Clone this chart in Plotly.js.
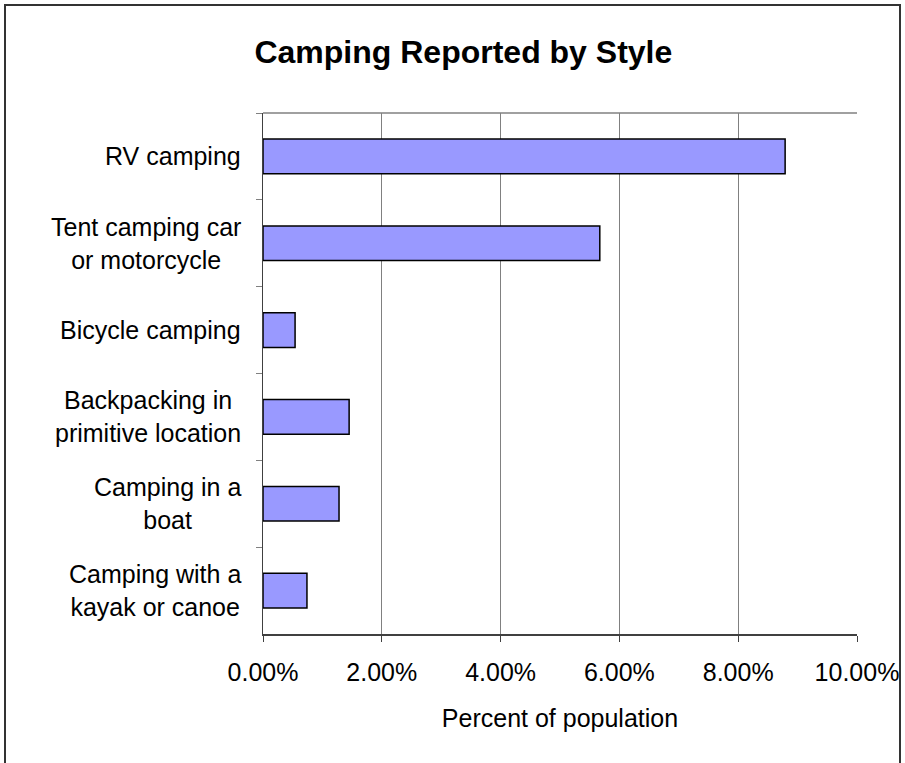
<!DOCTYPE html>
<html>
<head>
<meta charset="utf-8">
<script src="https://cdn.plot.ly/plotly-3.0.1.min.js"></script>
<style>
html,body{margin:0;padding:0;background:#fff;}
#wrap{position:relative;width:905px;height:763px;overflow:hidden;}
#chart{position:absolute;left:0;top:0;width:905px;height:763px;}
#frame{position:absolute;left:4px;top:4px;width:897px;height:800px;border:2px solid #333;pointer-events:none;box-sizing:border-box;}
</style>
</head>
<body>
<div id="wrap"><div id="chart"></div><div id="frame"></div></div>
<script>
const categories = [
  "RV camping",
  "Tent camping car<br>or motorcycle",
  "Bicycle camping",
  "Backpacking in<br>primitive location",
  "Camping in a<br>boat",
  "Camping with a<br>kayak or canoe"
];
const values = [0.0879, 0.0567, 0.0054, 0.0145, 0.0128, 0.0074];
const xTickVals = [0, 0.02, 0.04, 0.06, 0.08, 0.10];
const xTickText = ["0.00%", "2.00%", "4.00%", "6.00%", "8.00%", "10.00%"];

const font = "Liberation Sans, Arial, sans-serif";

const trace = {
  type: "bar",
  orientation: "h",
  x: values,
  y: categories,
  marker: {color: "#9999FF", line: {color: "#000000", width: 1.5}},
  hoverinfo: "x+y"
};

const annotations = categories.map(c => ({
  xref: "paper", yref: "y",
  x: -0.034, y: c,
  xanchor: "right", yanchor: "middle",
  text: c, align: "center", showarrow: false,
  font: {family: font, size: 25, color: "#000"}
}));

const layout = {
  width: 905, height: 763,
  margin: {l: 263, r: 48, t: 113, b: 129},
  paper_bgcolor: "#fff", plot_bgcolor: "#fff",
  showlegend: false,
  bargap: 0.6,
  title: {
    text: "<b>Camping Reported by Style</b>",
    font: {family: font, size: 32, color: "#000"},
    x: 0.512, xanchor: "center", y: 0.932, yanchor: "middle"
  },
  xaxis: {
    range: [0, 0.10],
    tickvals: xTickVals, ticktext: xTickText,
    showgrid: true, gridcolor: "#808080", gridwidth: 1,
    showline: true, linecolor: "#404040", linewidth: 1.5, mirror: false,
    ticks: "outside", ticklen: 6, tickcolor: "#404040",
    ticklabelstandoff: 9,
    zeroline: false,
    tickfont: {family: font, size: 25, color: "#000"},
    title: {text: "Percent of population", font: {family: font, size: 25, color: "#000"}, standoff: 25}
  },
  yaxis: {
    type: "category",
    autorange: "reversed",
    showticklabels: false,
    showgrid: false,
    showline: true, linecolor: "#404040", linewidth: 1.5,
    ticks: "outside", ticklen: 6, tickcolor: "#808080",
    tickson: "boundaries",
    zeroline: false
  },
  shapes: [
    {type: "line", xref: "paper", yref: "paper", x0: 0, x1: 1, y0: 1, y1: 1, line: {color: "#808080", width: 1.5}}
  ],
  annotations: annotations
};

Plotly.newPlot("chart", [trace], layout, {displayModeBar: false, staticPlot: true});
</script>
</body>
</html>
